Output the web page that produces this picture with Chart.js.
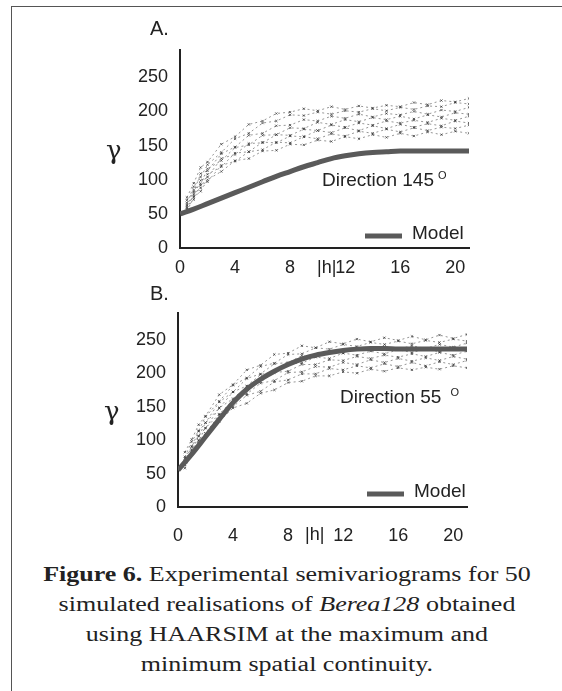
<!DOCTYPE html>
<html>
<head>
<meta charset="utf-8">
<script src="https://cdn.jsdelivr.net/npm/chart.js@4.4.1/dist/chart.umd.min.js"></script>
<style>
  html, body { margin: 0; padding: 0; background: #fff; }
  body { width: 562px; height: 691px; position: relative; overflow: hidden; }
  .frame { position: absolute; left: 11px; top: 6px; width: 600px; height: 700px;
           border-top: 1px solid #555; border-left: 1px solid #555; }
  canvas { position: absolute; left: 0; }
  #chartA { top: 0; }
  #chartB { top: 285px; }
  .caption { position: absolute; left: 0; top: 559px; width: 574px;
             font-family: "Liberation Serif", "Times New Roman", serif; font-size: 20px;
             color: #222; text-align: center; }
  .caption div { height: 30px; line-height: 30px; transform: scaleX(1.3); }
</style>
</head>
<body>
<div class="frame"></div>
<canvas id="chartA" width="562" height="285"></canvas>
<canvas id="chartB" width="562" height="270"></canvas>
<div class="caption">
  <div><b>Figure 6.</b> Experimental semivariograms for 50</div>
  <div>simulated realisations of <i>Berea128</i> obtained</div>
  <div>using HAARSIM at the maximum and</div>
  <div>minimum spatial continuity.</div>
</div>
<script>
// lags |h| and axis ticks
const lags = [0.5, 1, 1.5, 2, 3, 4, 5, 6, 7, 8, 9, 10, 11, 12, 13, 14, 15, 16, 17, 18, 19, 20, 21];
const modelLags = [0, 1, 2, 3, 4, 5, 6, 7, 8, 9, 10, 11, 12, 13, 14, 15, 16, 17, 18, 19, 20, 21];
const xTicks = [0, 4, 8, 12, 16, 20];
const yTicks = [0, 50, 100, 150, 200, 250];

// A. direction 145
const modelA = [50, 57, 65, 73, 81, 89, 97, 105, 112, 119, 125, 131, 135, 138, 140, 141, 142, 142, 142, 142, 142, 142];
const simA = [
  [74, 95, 118, 126, 152, 163, 181, 186, 197, 199, 204, 201, 207, 203, 208, 205, 209, 207, 213, 210, 216, 214, 219],
  [66, 90, 104, 122, 140, 160, 168, 183, 186, 195, 194, 199, 196, 201, 199, 204, 201, 206, 203, 208, 207, 213, 211],
  [70, 82, 109, 113, 138, 148, 165, 168, 179, 180, 188, 186, 193, 190, 196, 192, 197, 195, 200, 196, 202, 200, 206],
  [61, 85, 94, 116, 128, 147, 151, 165, 166, 176, 175, 184, 181, 188, 185, 191, 188, 193, 189, 195, 192, 198, 196],
  [63, 76, 99, 104, 131, 137, 153, 154, 166, 165, 174, 172, 180, 177, 183, 180, 186, 183, 187, 184, 190, 187, 193],
  [57, 79, 88, 108, 119, 139, 141, 155, 154, 164, 163, 172, 169, 176, 172, 179, 175, 181, 177, 182, 179, 186, 183],
  [59, 71, 92, 97, 121, 127, 141, 144, 155, 154, 163, 160, 167, 164, 171, 168, 174, 170, 176, 172, 177, 175, 180],
  [54, 74, 83, 100, 112, 128, 131, 142, 143, 152, 151, 158, 156, 163, 160, 166, 162, 168, 164, 170, 166, 171, 168]
];

// B. direction 55
const modelB = [55, 79, 105, 131, 156, 176, 191, 203, 213, 221, 227, 231, 234, 236, 237, 237, 236, 236, 236, 236, 236, 236];
const simB = [
  [82, 101, 123, 136, 168, 183, 205, 212, 228, 230, 241, 238, 247, 244, 251, 247, 253, 249, 255, 250, 257, 252, 258],
  [75, 98, 114, 135, 158, 182, 193, 210, 215, 228, 229, 238, 236, 243, 240, 246, 243, 248, 244, 249, 246, 251, 248],
  [73, 90, 113, 126, 157, 172, 192, 199, 214, 216, 226, 225, 233, 230, 238, 234, 240, 236, 241, 237, 243, 239, 245],
  [68, 91, 106, 126, 148, 172, 181, 198, 202, 214, 215, 224, 222, 230, 227, 233, 229, 235, 231, 236, 232, 238, 234],
  [69, 84, 106, 118, 148, 162, 180, 187, 201, 203, 213, 213, 220, 219, 225, 222, 227, 224, 229, 225, 231, 227, 233],
  [63, 86, 99, 118, 139, 160, 169, 185, 189, 201, 202, 210, 209, 216, 213, 220, 216, 222, 218, 223, 219, 225, 221],
  [64, 79, 100, 110, 138, 150, 167, 173, 187, 190, 199, 199, 207, 205, 211, 208, 214, 210, 216, 211, 217, 213, 219],
  [58, 80, 93, 110, 128, 148, 155, 170, 175, 186, 188, 196, 196, 202, 200, 206, 203, 208, 205, 209, 206, 211, 208]
];

const SANS = '"Liberation Sans", Arial, sans-serif';

// letters, gamma, |h|, direction and legend
const decor = {
  id: 'decor',
  afterDraw(chart, args, o) {
    const ctx = chart.ctx;
    ctx.save();
    ctx.fillStyle = '#222';
    ctx.textBaseline = 'middle';
    ctx.textAlign = 'left';
    ctx.font = '20px ' + SANS;
    ctx.fillText(o.letter, o.letterX, o.letterY);
    ctx.font = '26px "DejaVu Serif", serif';
    ctx.fillText('γ', o.gammaX, o.gammaY);
    ctx.font = '18px ' + SANS;
    ctx.fillText('|h|', o.hX, o.hY);
    ctx.font = '19px ' + SANS;
    ctx.fillText(o.dir, o.dirX, o.dirY);
    const w = ctx.measureText(o.dir).width;
    ctx.font = '11px ' + SANS;
    ctx.fillText('O', o.dirX + w + o.supGap, o.dirY - 5);
    // legend
    ctx.strokeStyle = '#5a5a5a';
    ctx.lineWidth = 5;
    ctx.beginPath();
    ctx.moveTo(o.legX, o.legY + 2);
    ctx.lineTo(o.legX + 37, o.legY + 2);
    ctx.stroke();
    ctx.font = '19px ' + SANS;
    ctx.fillText('Model', o.legX + 47, o.legY);
    ctx.restore();
  }
};

function buildChart(id, model, sims, geo, deco) {
  const datasets = [{
    label: 'Model',
    data: modelLags.map((h, i) => ({ x: h, y: model[i] })),
    borderColor: '#5a5a5a',
    borderWidth: 5,
    pointRadius: 0,
    cubicInterpolationMode: 'monotone'
  }];
  sims.forEach((s, k) => {
    datasets.push({
      label: 'Realisation ' + (k + 1),
      data: lags.map((h, i) => ({ x: h, y: s[i] })),
      borderColor: 'rgba(80,80,80,0.6)',
      borderWidth: 1,
      borderDash: [2, 3],
      pointRadius: 1.6,
      pointStyle: 'crossRot',
      pointBorderColor: 'rgba(50,50,50,0.7)',
      pointBorderWidth: 1
    });
  });

  return new Chart(document.getElementById(id), {
    type: 'line',
    data: { datasets },
    plugins: [decor],
    options: {
      responsive: false,
      animation: false,
      layout: { padding: { left: geo.left - 60, right: geo.right, top: geo.top, bottom: geo.bottom } },
      scales: {
        x: {
          type: 'linear',
          min: 0,
          max: 21,
          afterBuildTicks: s => { s.ticks = xTicks.map(v => ({ value: v })); },
          afterFit: s => { s.height = geo.xh; },
          grid: { display: false, drawTicks: false },
          border: { display: true, color: '#222', width: 2 },
          ticks: { color: '#222', padding: geo.xpad, maxRotation: 0, font: { family: SANS, size: 18 } }
        },
        y: {
          min: 0,
          max: 290,
          afterBuildTicks: s => { s.ticks = yTicks.map(v => ({ value: v })); },
          afterFit: s => { s.width = 60; },
          grid: { display: false, drawTicks: false },
          border: { display: true, color: '#222', width: 2 },
          ticks: { color: '#222', padding: 12, font: { family: SANS, size: 18 } }
        }
      },
      plugins: {
        legend: { display: false },
        tooltip: { enabled: false },
        decor: deco
      }
    }
  });
}

buildChart('chartA', modelA, simA,
  { left: 180, right: 93, top: 50, bottom: 7, xh: 30, xpad: 9 },
  { letter: 'A.', letterX: 150, letterY: 29, gammaX: 106, gammaY: 152, hX: 317, hY: 268,
    dir: 'Direction 145', dirX: 322, dirY: 181, supGap: 4, legX: 365, legY: 234 });

buildChart('chartB', modelB, simB,
  { left: 178, right: 95, top: 28, bottom: 8, xh: 40, xpad: 18 },
  { letter: 'B.', letterX: 150, letterY: 9, gammaX: 104, gammaY: 128, hX: 305, hY: 250,
    dir: 'Direction 55', dirX: 340, dirY: 113, supGap: 9, legX: 367, legY: 207 });
</script>
</body>
</html>
